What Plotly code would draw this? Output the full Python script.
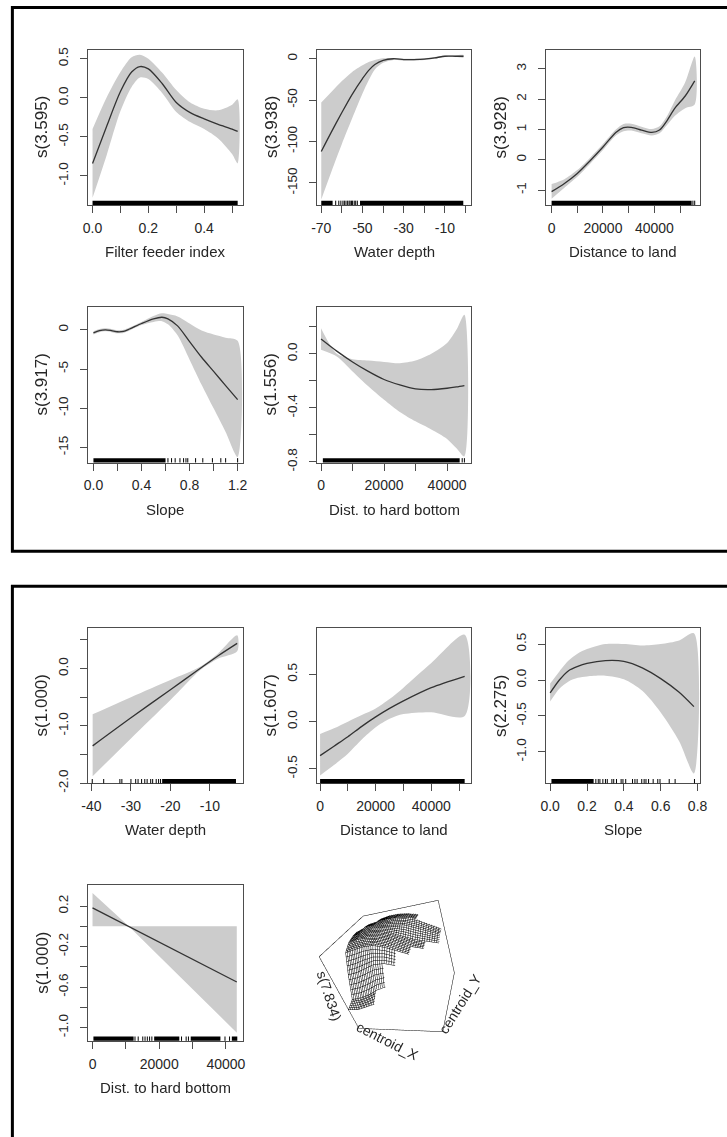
import plotly.graph_objects as go

W, H = 727, 1137

# ------------------------------------------------------------------ data
# Top panel
ffi_x = [0, 0.05, 0.1, 0.14, 0.17, 0.2, 0.25, 0.3, 0.35, 0.4, 0.45, 0.5, 0.52]
ffi_fit = [-0.84, -0.37, 0.08, 0.33, 0.40, 0.37, 0.18, -0.06, -0.19, -0.27, -0.34, -0.40, -0.43]
ffi_up = [-0.40, 0.0, 0.33, 0.52, 0.55, 0.50, 0.32, 0.10, -0.06, -0.14, -0.16, -0.09, -0.02]
ffi_lo = [-1.28, -0.74, -0.17, 0.14, 0.26, 0.24, 0.06, -0.18, -0.31, -0.40, -0.52, -0.72, -0.84]

wd1_x = [-70, -65, -60, -55, -50, -47, -44, -40, -35, -30, -25, -20, -15, -10, -5, -1]
wd1_fit = [-112, -88, -65, -43, -24, -14, -7, -2, 0, -1, -1, -0.5, 1, 3, 3, 3]
wd1_up = [-53, -40, -27, -16, -8, -4, -1.5, 0.5, 1, 0, 0, 0.5, 2, 4, 4, 4.5]
wd1_lo = [-170, -136, -103, -72, -42, -26, -13, -5, -1.5, -2, -2, -1.5, 0, 2, 2, 1.5]

dl1_x = [0, 5000, 10000, 15000, 20000, 25000, 28000, 31000, 35000, 39000, 42000, 45000, 48000, 52000, 55700]
dl1_fit = [-1.05, -0.78, -0.45, -0.03, 0.42, 0.90, 1.06, 1.07, 0.98, 0.90, 0.98, 1.30, 1.70, 2.10, 2.60]
dl1_up = [-0.80, -0.64, -0.34, 0.07, 0.52, 1.00, 1.18, 1.19, 1.09, 1.01, 1.10, 1.45, 1.95, 2.55, 3.40]
dl1_lo = [-1.28, -0.92, -0.56, -0.13, 0.32, 0.80, 0.94, 0.96, 0.87, 0.80, 0.87, 1.15, 1.45, 1.70, 1.82]

sl1_x = [0, 0.05, 0.1, 0.15, 0.2, 0.25, 0.3, 0.4, 0.5, 0.57, 0.62, 0.7, 0.8, 0.9, 1.0, 1.1, 1.2]
sl1_fit = [-0.4, -0.1, 0.0, -0.1, -0.25, -0.2, 0.1, 0.8, 1.4, 1.6, 1.4, 0.5, -1.5, -3.5, -5.3, -7.1, -8.9]
sl1_up = [-0.2, 0.1, 0.2, 0.1, -0.05, 0.0, 0.3, 1.0, 1.75, 2.1, 2.0, 1.7, 0.8, -0.1, -0.6, -1.0, -1.4]
sl1_lo = [-0.6, -0.3, -0.2, -0.3, -0.45, -0.4, -0.1, 0.6, 1.0, 1.1, 0.7, -0.7, -3.8, -7.0, -10.0, -13.0, -16.2]

hb1_x = [0, 5000, 10000, 15000, 20000, 25000, 30000, 35000, 40000, 43000, 45500]
hb1_fit = [0.11, 0.02, -0.06, -0.13, -0.19, -0.23, -0.26, -0.265, -0.255, -0.245, -0.235]
hb1_up = [0.19, 0.00, -0.04, -0.05, -0.06, -0.07, -0.05, 0.00, 0.08, 0.18, 0.29]
hb1_lo = [0.03, -0.02, -0.13, -0.24, -0.34, -0.43, -0.50, -0.56, -0.63, -0.70, -0.76]

# Bottom panel
wd2_x = [-39.7, -30, -20, -12.5, -8, -3.1]
wd2_fit = [-1.35, -0.86, -0.37, 0.0, 0.22, 0.44]
wd2_up = [-0.80, -0.50, -0.20, 0.03, 0.26, 0.58]
wd2_lo = [-1.88, -1.22, -0.55, -0.03, 0.17, 0.30]

dl2_x = [0, 5000, 10000, 15000, 20000, 25000, 30000, 40000, 52000]
dl2_fit = [-0.36, -0.26, -0.16, -0.05, 0.05, 0.14, 0.22, 0.36, 0.48]
dl2_up = [-0.13, -0.07, 0.00, 0.07, 0.14, 0.24, 0.36, 0.62, 0.92]
dl2_lo = [-0.57, -0.46, -0.34, -0.19, -0.06, 0.03, 0.08, 0.10, 0.06]

sl2_x = [0, 0.05, 0.1, 0.15, 0.2, 0.3, 0.4, 0.5, 0.6, 0.7, 0.78]
sl2_fit = [-0.18, 0.0, 0.13, 0.19, 0.23, 0.27, 0.26, 0.17, 0.02, -0.17, -0.37]
sl2_up = [-0.05, 0.12, 0.27, 0.37, 0.43, 0.50, 0.50, 0.48, 0.50, 0.55, 0.65]
sl2_lo = [-0.30, -0.12, -0.02, 0.03, 0.05, 0.06, 0.01, -0.15, -0.45, -0.85, -1.30]

hb2_x = [0, 10870, 43270]
hb2_fit = [0.183, 0.0, -0.55]
hb2_up = [0.33, 0.0, 0.0]
hb2_lo = [0.0, 0.0, -1.05]

# Rug data: dense runs (start, end) and isolated observations
ffi_rug_runs = [(0.0, 0.52)]
ffi_rug_ticks = []
wd1_rug_runs = [(-70, -64.5), (-51.2, -1.1)]
wd1_rug_ticks = [-63, -61.5, -60.5, -59.5, -58.8, -58, -57.2, -56.5, -56, -55.3, -54.8, -54, -53.3, -52.5]
dl1_rug_runs = [(0, 54500)]
dl1_rug_ticks = [55000, 55700]
sl1_rug_runs = [(0.0, 0.60)]
sl1_rug_ticks = [0.62, 0.65, 0.68, 0.72, 0.75, 0.77, 0.785, 0.85, 0.91, 0.99, 1.06, 1.10, 1.2]
hb1_rug_runs = [(580, 44000)]
hb1_rug_ticks = [44800, 45500]
wd2_rug_runs = [(-22.1, -3.4)]
wd2_rug_ticks = [-39.8, -36.9, -32.8, -32.3, -30, -28.8, -28.2, -27.3, -26.5, -25.9, -25, -24.5, -23.6, -23, -22.5]
dl2_rug_runs = [(0, 52000)]
dl2_rug_ticks = []
sl2_rug_runs = [(0.007, 0.236)]
sl2_rug_ticks = [0.248, 0.261, 0.27, 0.286, 0.30, 0.31, 0.335, 0.345, 0.36, 0.385, 0.395, 0.41,
                 0.447, 0.46, 0.472, 0.497, 0.51, 0.52, 0.534, 0.559, 0.584, 0.596, 0.646, 0.678, 0.783]
hb2_rug_runs = [(270, 12330), (18490, 26030), (29450, 38360), (41780, 43420)]
hb2_rug_ticks = [12740, 13700, 15070, 15750, 16440, 17120, 17800, 26700, 28080, 28770, 39730, 41100]

# Tick values / labels
ffi_xt = [0, 0.1, 0.2, 0.3, 0.4, 0.5]; ffi_xl = ["0.0", "", "0.2", "", "0.4", ""]
ffi_yt = [0.5, 0, -0.5, -1.0]; ffi_yl = ["0.5", "0.0", "-0.5", "-1.0"]
wd1_xt = [-70, -60, -50, -40, -30, -20, -10, 0]; wd1_xl = ["-70", "", "-50", "", "-30", "", "-10", ""]
wd1_yt = [0, -50, -100, -150]; wd1_yl = ["0", "-50", "-100", "-150"]
dl1_xt = [0, 10000, 20000, 30000, 40000, 50000]; dl1_xl = ["0", "", "20000", "", "40000", ""]
dl1_yt = [3, 2, 1, 0, -1]; dl1_yl = ["3", "2", "1", "0", "-1"]
sl1_xt = [0, 0.2, 0.4, 0.6, 0.8, 1.0, 1.2]; sl1_xl = ["0.0", "", "0.4", "", "0.8", "", "1.2"]
sl1_yt = [0, -5, -10, -15]; sl1_yl = ["0", "-5", "-10", "-15"]
hb1_xt = [0, 10000, 20000, 30000, 40000]; hb1_xl = ["0", "", "20000", "", "40000"]
hb1_yt = [0.2, 0, -0.2, -0.4, -0.6, -0.8]; hb1_yl = ["", "0.0", "", "-0.4", "", "-0.8"]
wd2_xt = [-40, -30, -20, -10]; wd2_xl = ["-40", "-30", "-20", "-10"]
wd2_yt = [0.5, 0, -0.5, -1.0, -1.5, -2.0]; wd2_yl = ["", "0.0", "", "-1.0", "", "-2.0"]
dl2_xt = [0, 10000, 20000, 30000, 40000, 50000]; dl2_xl = ["0", "", "20000", "", "40000", ""]
dl2_yt = [0.5, 0, -0.5]; dl2_yl = ["0.5", "0.0", "-0.5"]
sl2_xt = [0, 0.2, 0.4, 0.6, 0.8]; sl2_xl = ["0.0", "0.2", "0.4", "0.6", "0.8"]
sl2_yt = [0.5, 0, -0.5, -1.0]; sl2_yl = ["0.5", "0.0", "-0.5", "-1.0"]
hb2_xt = [0, 10000, 20000, 30000, 40000]; hb2_xl = ["0", "", "20000", "", "40000"]
hb2_yt = [0.2, 0, -0.2, -0.4, -0.6, -0.8, -1.0]; hb2_yl = ["0.2", "", "-0.2", "", "-0.6", "", "-1.0"]

# 2-D smooth of centroid coordinates (perspective plot), None = too far from data
cen_x = [0, 10000, 20000, 30000, 40000, 50000, 60000, 70000, 80000]
cen_y = [0, 10000, 20000, 30000, 40000, 50000, 60000, 70000, 80000]
cen_z = [
    [-1.0, -1.0, -0.8, -0.6, None, None, None, None, None],
    [-0.8, -0.7, -0.5, -0.2, 0.0, None, None, None, None],
    [0.5, 0.6, 0.8, 1.0, 1.0, 0.8, None, None, None],
    [1.6, 1.7, 1.8, 1.8, 1.6, 1.3, 1.0, None, None],
    [1.9, 2.0, 2.0, 1.9, 1.7, 1.4, 1.1, 0.9, None],
    [2.0, 2.1, 2.1, 2.0, 1.8, 1.5, 1.2, 1.0, 0.8],
    [2.0, 2.2, 2.2, 2.1, 2.0, 1.9, 1.6, 1.3, 1.0],
    [None, 2.1, 2.2, 2.2, 2.2, 2.1, 1.9, 1.5, 1.1],
    [None, None, 2.1, 2.2, 2.2, 2.1, 1.9, None, None],
]
cen_xr = [0, 80000]
cen_yr = [0, 80000]
cen_zr = [-2.5, 2.5]

# ------------------------------------------------------------------ layout geometry (pixels)
cols = [(83.4, 241.0), (316.6, 473.8), (550.3, 707.0)]
rows = [(48, 205), (308, 465), (632, 789), (892, 1049)]


def px_x(p):
    return p / W


def px_y(p):
    return 1 - p / H


plots = [
    (ffi_x, ffi_fit, ffi_up, ffi_lo, [-0.0166, 0.538], [-1.372, 0.618], ffi_xt, ffi_xl, ffi_yt, ffi_yl,
     "Filter feeder index", "s(3.595)", 0, 0, ffi_rug_runs, ffi_rug_ticks, True),
    (wd1_x, wd1_fit, wd1_up, wd1_lo, [-72.1, 2.8], [-176.7, 11.1], wd1_xt, wd1_xl, wd1_yt, wd1_yl,
     "Water depth", "s(3.938)", 1, 0, wd1_rug_runs, wd1_rug_ticks, True),
    (dl1_x, dl1_fit, dl1_up, dl1_lo, [-2000, 57900], [-1.49, 3.63], dl1_xt, dl1_xl, dl1_yt, dl1_yl,
     "Distance to land", "s(3.928)", 2, 0, dl1_rug_runs, dl1_rug_ticks, True),
    (sl1_x, sl1_fit, sl1_up, sl1_lo, [-0.046, 1.242], [-16.9, 2.9], sl1_xt, sl1_xl, sl1_yt, sl1_yl,
     "Slope", "s(3.917)", 0, 1, sl1_rug_runs, sl1_rug_ticks, True),
    (hb1_x, hb1_fit, hb1_up, hb1_lo, [-1300, 47700], [-0.805, 0.347], hb1_xt, hb1_xl, hb1_yt, hb1_yl,
     "Dist. to hard bottom", "s(1.556)", 1, 1, hb1_rug_runs, hb1_rug_ticks, True),
    (wd2_x, wd2_fit, wd2_up, wd2_lo, [-40.9, -1.7], [-2.005, 0.71], wd2_xt, wd2_xl, wd2_yt, wd2_yl,
     "Water depth", "s(1.000)", 0, 2, wd2_rug_runs, wd2_rug_ticks, True),
    (dl2_x, dl2_fit, dl2_up, dl2_lo, [-1130, 54400], [-0.654, 0.993], dl2_xt, dl2_xl, dl2_yt, dl2_yl,
     "Distance to land", "s(1.607)", 1, 2, dl2_rug_runs, dl2_rug_ticks, True),
    (sl2_x, sl2_fit, sl2_up, sl2_lo, [-0.02, 0.815], [-1.437, 0.725], sl2_xt, sl2_xl, sl2_yt, sl2_yl,
     "Slope", "s(2.275)", 2, 2, sl2_rug_runs, sl2_rug_ticks, True),
    (hb2_x, hb2_fit, hb2_up, hb2_lo, [-1384, 45040], [-1.131, 0.405], hb2_xt, hb2_xl, hb2_yt, hb2_yl,
     "Dist. to hard bottom", "s(1.000)", 0, 3, hb2_rug_runs, hb2_rug_ticks, False),
]

FONT = "Liberation Sans, Arial, sans-serif"
TXT = "#262626"
BOX = "#4d4d4d"
BAND = "#cccccc"
LINE = "#333333"

fig = go.Figure()
layout = dict(
    width=W, height=H, margin=dict(l=0, r=0, t=0, b=0),
    paper_bgcolor="white", plot_bgcolor="white", showlegend=False,
    font=dict(family=FONT, color=TXT),
)
shapes = []
annotations = []

for i, p in enumerate(plots, start=1):
    (x, fit, up, lo, xr, yr, xt, xl, yt, yl, xtitle, ytitle, c, r, runs, ticks, smooth) = p
    xa = "x" if i == 1 else f"x{i}"
    ya = "y" if i == 1 else f"y{i}"
    shape = "spline" if smooth else "linear"
    fig.add_trace(go.Scatter(
        x=list(x) + list(x)[::-1], y=list(up) + list(lo)[::-1], xaxis=xa, yaxis=ya,
        mode="lines", fill="toself", fillcolor=BAND, line=dict(width=0, shape=shape, smoothing=0.8),
        hoverinfo="skip"))
    fig.add_trace(go.Scatter(
        x=x, y=fit, xaxis=xa, yaxis=ya, mode="lines",
        line=dict(color=LINE, width=1.3, shape=shape, smoothing=0.8)))
    c0, c1 = cols[c]
    r0, r1 = rows[r]
    axcommon = dict(showgrid=False, zeroline=False, showline=True, mirror=True, linecolor=BOX,
                    linewidth=1, ticks="outside", ticklen=7, tickcolor=BOX, tickwidth=1,
                    fixedrange=True)
    layout["xaxis" if i == 1 else f"xaxis{i}"] = dict(
        axcommon, domain=[px_x(c0), px_x(c1)], range=xr, anchor=ya,
        tickfont=dict(size=14, family=FONT, color=TXT),
        tickmode="array", tickvals=xt, ticktext=xl, ticklabelstandoff=3)
    layout["yaxis" if i == 1 else f"yaxis{i}"] = dict(
        axcommon, domain=[px_y(r1), px_y(r0)], range=yr, anchor=xa,
        tickfont=dict(size=13.5, family=FONT, color=TXT),
        tickmode="array", tickvals=yt, ticktext=yl, tickangle=-90, ticklabelstandoff=7)
    for (a, b) in runs:
        shapes.append(dict(type="rect", xref=xa, yref=f"{ya} domain", x0=a, x1=b, y0=0, y1=0.028,
                           fillcolor="black", line=dict(width=0), layer="above"))
    for t in ticks:
        shapes.append(dict(type="line", xref=xa, yref=f"{ya} domain", x0=t, x1=t, y0=0, y1=0.028,
                           line=dict(color="black", width=1), layer="above"))
    annotations.append(dict(text=xtitle, xref="paper", yref="paper", x=px_x((c0 + c1) / 2),
                            y=px_y(r1 + 47), showarrow=False, xanchor="center", yanchor="middle",
                            font=dict(size=15, family=FONT, color=TXT)))
    annotations.append(dict(text=ytitle, xref="paper", yref="paper", x=px_x(c0 - 47),
                            y=px_y((r0 + r1) / 2), showarrow=False, xanchor="center", yanchor="middle",
                            textangle=-90, font=dict(size=17, family=FONT, color=TXT)))

# perspective surface
fig.add_trace(go.Surface(
    x=cen_x, y=cen_y, z=cen_z, showscale=False,
    colorscale=[[0, "white"], [1, "white"]],
    lighting=dict(ambient=1, diffuse=0, specular=0, fresnel=0),
    contours=dict(
        x=dict(show=True, start=0, end=80000, size=2000, color="black", width=1),
        y=dict(show=True, start=0, end=80000, size=2000, color="black", width=1),
    ),
    hoverinfo="skip", scene="scene"))

tfont = dict(size=14, family=FONT, color=TXT)
axis3d = dict(showgrid=False, showbackground=False, showticklabels=False, ticks="",
              showline=True, linecolor="black", linewidth=1, zeroline=False, mirror=True,
              showspikes=False, title=dict(text=""))
layout["scene"] = dict(
    domain=dict(x=[px_x(303), px_x(493)], y=[px_y(1068), px_y(878)]),
    xaxis=dict(axis3d, range=cen_xr),
    yaxis=dict(axis3d, range=cen_yr),
    zaxis=dict(axis3d, range=cen_zr),
    aspectmode="cube",
    camera=dict(eye=dict(x=1.1, y=-2.0, z=1.25), up=dict(x=0.3, y=0.1, z=1)),
    bgcolor="white",
    annotations=[
        dict(x=sum(cen_xr) / 2, y=cen_yr[0], z=cen_zr[0], text="centroid_X", showarrow=False,
             textangle=27, xshift=-9, yshift=-11, font=tfont),
        dict(x=cen_xr[1], y=sum(cen_yr) / 2, z=cen_zr[0], text="centroid_Y", showarrow=False,
             textangle=-58, xshift=11, yshift=-6, font=tfont),
        dict(x=cen_xr[0], y=cen_yr[0], z=sum(cen_zr) / 2, text="s(7.834)", showarrow=False,
             textangle=72, xshift=-11, yshift=0, font=tfont),
    ],
)

# panel frames
shapes.append(dict(type="rect", xref="paper", yref="paper", x0=px_x(6.5), x1=px_x(740),
                   y0=px_y(554.5), y1=px_y(5.5), line=dict(color="black", width=3), layer="above"))
shapes.append(dict(type="rect", xref="paper", yref="paper", x0=px_x(6.5), x1=px_x(740),
                   y0=px_y(1150), y1=px_y(590), line=dict(color="black", width=3), layer="above"))

layout["shapes"] = shapes
layout["annotations"] = annotations
fig.update_layout(**layout)
fig.write_html("out.html")
